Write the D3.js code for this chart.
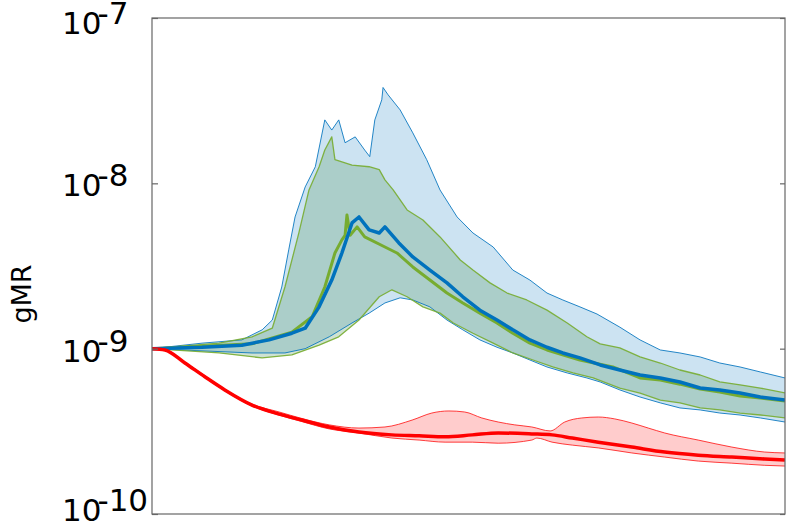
<!DOCTYPE html>
<html lang="en">
<head>
  <meta charset="UTF-8" />
  <script src="https://d3js.org/d3.v7.min.js"></script>
  <title>gMR</title>
  <style>
    body { margin: 0; background: #fff; }
  </style>
</head>
<body>
<script type="text/javascript">
// [time step, gMR]
var blueUpper = [[0,1.0e-9],[7.9,1.08e-9],[14.2,1.13e-9],[17.4,1.30e-9],[19.0,1.49e-9],[20.5,2.36e-9],[21.6,3.96e-9],
  [22.6,6.26e-9],[24.2,9.51e-9],[25.8,12.6e-9],[27.3,24.2e-9],[28.4,21.0e-9],[29.5,24.2e-9],[30.5,17.6e-9],
  [32.1,19.1e-9],[33.6,15.9e-9],[34.4,14.5e-9],[35.2,24.2e-9],[36.3,32.0e-9],[36.5,38.0e-9],[37.3,34.3e-9],
  [39.2,27.8e-9],[41.2,20.2e-9],[43.4,13.9e-9],[45.5,9.12e-9],[48.2,6.26e-9],[50.7,5.01e-9],[53.9,4.12e-9],
  [57.0,2.99e-9],[59.7,2.60e-9],[62.4,2.17e-9],[64.9,1.97e-9],[67.6,1.79e-9],[70.3,1.62e-9],[73.9,1.35e-9],
  [77.1,1.13e-9],[80.3,0.982e-9],[83.4,0.942e-9],[86.6,0.891e-9],[89.7,0.819e-9],[92.9,0.775e-9],
  [96.1,0.723e-9],[100,0.665e-9]];
var blueMean = [[0,1.0e-9],[7.9,1.02e-9],[14.2,1.05e-9],[18.5,1.13e-9],[22.1,1.24e-9],[24.2,1.33e-9],[26.4,1.79e-9],
  [28.4,2.60e-9],[30.0,3.79e-9],[31.6,5.76e-9],[32.7,6.26e-9],[34.3,5.23e-9],[35.9,5.01e-9],[36.8,5.45e-9],
  [39.0,4.36e-9],[41.2,3.59e-9],[43.9,2.99e-9],[46.6,2.50e-9],[49.1,2.06e-9],[51.8,1.71e-9],[54.5,1.49e-9],
  [57.0,1.30e-9],[59.7,1.13e-9],[62.4,1.02e-9],[64.9,0.942e-9],[67.6,0.879e-9],[70.8,0.797e-9],[73.9,0.743e-9],
  [77.1,0.693e-9],[80.3,0.665e-9],[83.4,0.629e-9],[86.6,0.578e-9],[89.7,0.563e-9],[92.9,0.539e-9],
  [96.1,0.510e-9],[100,0.489e-9]];
var blueLower = [[0,1.0e-9],[7.9,0.97e-9],[15.8,0.942e-9],[21.0,0.942e-9],[24.2,1.0e-9],[28.0,1.18e-9],[31.6,1.43e-9],
  [34.3,1.64e-9],[36.8,1.89e-9],[39.2,2.03e-9],[41.2,1.97e-9],[43.9,1.79e-9],[46.6,1.49e-9],[49.1,1.30e-9],
  [51.8,1.13e-9],[54.5,1.02e-9],[57.0,0.942e-9],[59.7,0.854e-9],[62.4,0.775e-9],[65.6,0.713e-9],[68.7,0.665e-9],
  [70.8,0.629e-9],[73.9,0.563e-9],[77.1,0.510e-9],[80.3,0.470e-9],[83.4,0.438e-9],[86.6,0.426e-9],
  [89.7,0.408e-9],[92.9,0.397e-9],[96.1,0.381e-9],[100,0.360e-9]];

var greenUpper = [[0,1.0e-9],[10.6,1.08e-9],[15.8,1.18e-9],[19.0,1.33e-9],[21.0,2.36e-9],[23.2,5.01e-9],[24.8,9.12e-9],
  [26.4,12.6e-9],[27.3,15.9e-9],[28.4,19.1e-9],[28.9,13.9e-9],[31.6,12.9e-9],[34.3,12.6e-9],[35.9,12.1e-9],
  [36.8,10.5e-9],[38.1,9.12e-9],[40.3,6.90e-9],[42.8,6.0e-9],[45.5,4.74e-9],[48.7,3.44e-9],[50.7,2.99e-9],
  [53.4,2.50e-9],[56.1,2.17e-9],[59.2,1.97e-9],[62.4,1.71e-9],[65.6,1.43e-9],[68.7,1.18e-9],[70.8,1.07e-9],
  [73.9,1.01e-9],[77.1,0.891e-9],[80.3,0.819e-9],[83.4,0.743e-9],[86.6,0.693e-9],[89.7,0.629e-9],
  [92.9,0.604e-9],[96.1,0.578e-9],[100,0.540e-9]];
var greenMean = [[0,1.0e-9],[15.8,1.07e-9],[22.1,1.26e-9],[25.3,1.56e-9],[27.3,2.36e-9],[28.9,3.79e-9],[30.0,4.55e-9],
  [30.5,4.85e-9],[30.8,6.44e-9],[31.3,4.85e-9],[32.4,5.45e-9],[33.6,4.74e-9],[36.8,4.12e-9],[38.7,3.79e-9],
  [41.2,3.12e-9],[43.9,2.60e-9],[46.6,2.17e-9],[49.1,1.89e-9],[51.8,1.64e-9],[54.5,1.43e-9],[57.0,1.24e-9],
  [59.7,1.08e-9],[62.4,0.982e-9],[67.6,0.854e-9],[72.8,0.775e-9],[77.1,0.665e-9],[80.3,0.647e-9],
  [83.4,0.610e-9],[86.6,0.570e-9],[89.7,0.547e-9],[92.9,0.517e-9],[96.1,0.503e-9],[100,0.482e-9]];
var greenLower = [[0,1.0e-9],[10.6,0.942e-9],[17.4,0.879e-9],[22.1,0.916e-9],[26.4,1.05e-9],[29.5,1.18e-9],
  [32.7,1.49e-9],[35.9,2.06e-9],[37.9,2.27e-9],[40.3,2.06e-9],[42.8,1.79e-9],[45.5,1.64e-9],[47.6,1.43e-9],
  [50.7,1.24e-9],[53.9,1.08e-9],[57.0,0.942e-9],[60.2,0.854e-9],[63.3,0.775e-9],[66.5,0.713e-9],
  [69.7,0.665e-9],[73.9,0.578e-9],[77.1,0.539e-9],[80.3,0.489e-9],[83.4,0.470e-9],[86.6,0.438e-9],
  [89.7,0.426e-9],[92.9,0.408e-9],[96.1,0.397e-9],[100,0.381e-9]];

var redUpper = [[0,1.0e-9],[2.05,0.985e-9],[5.2,0.83e-9],[8.4,0.685e-9],[11.5,0.57e-9],[15.8,0.462e-9],[20.1,0.414e-9],
  [23.7,0.378e-9],[28.0,0.346e-9],[32.7,0.331e-9],[36.8,0.336e-9],[41.1,0.370e-9],[44.2,0.408e-9],
  [46.9,0.420e-9],[49.4,0.414e-9],[52.1,0.381e-9],[54.7,0.360e-9],[57.3,0.346e-9],[60.0,0.336e-9],
  [62.9,0.318e-9],[65.2,0.360e-9],[67.9,0.381e-9],[70.5,0.386e-9],[73.1,0.376e-9],[75.8,0.355e-9],
  [78.4,0.331e-9],[81.0,0.309e-9],[86.3,0.280e-9],[91.6,0.254e-9],[96.8,0.237e-9],[100,0.234e-9]];
var redMean = [[0,1.0e-9],[2.05,0.982e-9],[5.2,0.819e-9],[8.4,0.674e-9],[11.5,0.563e-9],[15.8,0.456e-9],
  [20.1,0.402e-9],[23.7,0.370e-9],[28.0,0.336e-9],[32.7,0.313e-9],[37.9,0.301e-9],[42.2,0.297e-9],
  [46.3,0.293e-9],[50.6,0.301e-9],[54.7,0.309e-9],[60.0,0.305e-9],[63.2,0.301e-9],[66.4,0.288e-9],
  [70.5,0.272e-9],[75.8,0.254e-9],[81.0,0.237e-9],[86.3,0.227e-9],[91.6,0.221e-9],[96.8,0.215e-9],
  [100,0.212e-9]];
var redLower = [[0,1.0e-9],[2.05,0.978e-9],[5.2,0.81e-9],[8.4,0.665e-9],[11.5,0.555e-9],[15.8,0.450e-9],
  [20.1,0.396e-9],[23.7,0.362e-9],[28.0,0.327e-9],[32.7,0.309e-9],[37.9,0.288e-9],[42.2,0.280e-9],
  [46.3,0.272e-9],[50.6,0.272e-9],[54.7,0.268e-9],[60.0,0.280e-9],[60.8,0.288e-9],[63.2,0.272e-9],
  [66.4,0.261e-9],[70.5,0.251e-9],[75.8,0.234e-9],[81.0,0.221e-9],[86.3,0.209e-9],[91.6,0.203e-9],
  [96.8,0.197e-9],[100,0.195e-9]];

var yTicks = [1e-10, 1e-9, 1e-8, 1e-7];
var yTickExp = ["-10", "-9", "-8", "-7"];

var W = 787, H = 526;
var margin = {top: 18, right: 2, bottom: 12, left: 152};

var x = d3.scaleLinear().domain([0, 100]).range([margin.left, W - margin.right]);
var y = d3.scaleLog().domain([1e-10, 1e-7]).range([H - margin.bottom, margin.top]);

var svg = d3.select("body").append("svg").attr("width", W).attr("height", H)
  .style("font-family", "'DejaVu Sans', sans-serif");

svg.append("clipPath").attr("id", "plot").append("rect")
  .attr("x", x(0)).attr("y", y(1e-7)).attr("width", x(100) - x(0)).attr("height", y(1e-10) - y(1e-7));

var g = svg.append("g").attr("clip-path", "url(#plot)");

var line = d3.line().x(function(d){ return x(d[0]); }).y(function(d){ return y(d[1]); });
var smooth = d3.line().curve(d3.curveMonotoneX).x(function(d){ return x(d[0]); }).y(function(d){ return y(d[1]); });

function band(up, lo, fill, op, gen) {
  var pts = up.concat(lo.slice().reverse());
  g.append("path").attr("d", (gen || line)(pts) + "Z").attr("fill", fill).attr("fill-opacity", op).attr("stroke", "none");
}
function curve(data, col, w, op, gen) {
  g.append("path").datum(data).attr("d", gen || line).attr("fill", "none")
    .attr("stroke", col).attr("stroke-width", w).attr("stroke-opacity", op || 1)
    .attr("stroke-linejoin", "round");
}

band(blueUpper, blueLower, "#0072bd", 0.2);
band(greenUpper, greenLower, "#619f6b", 0.3);
// red band: upper forward + lower backward, both smooth
g.append("path")
  .attr("d", smooth(redUpper) + "L" + smooth(redLower.slice().reverse()).slice(1) + "Z")
  .attr("fill", "#ff0000").attr("fill-opacity", 0.2);

curve(blueUpper, "#0072bd", 1, 0.85);
curve(blueLower, "#0072bd", 1, 0.85);
curve(greenUpper, "#77ac30", 1.3, 0.9);
curve(greenLower, "#77ac30", 1.3, 0.9);
curve(greenMean, "#77ac30", 3);
curve(blueMean, "#0072bd", 3.5);
curve(redUpper, "#ff0000", 1, 0.75, smooth);
curve(redLower, "#ff0000", 1, 0.75, smooth);
curve(redMean, "#ff0000", 3.5, 1, smooth);

// frame
svg.append("rect").attr("x", x(0)).attr("y", y(1e-7))
  .attr("width", x(100) - x(0)).attr("height", y(1e-10) - y(1e-7))
  .attr("fill", "none").attr("stroke", "#666").attr("stroke-width", 1.2);

var left = svg.append("g").attr("transform", "translate(" + x(0) + ",0)")
  .call(d3.axisLeft(y).tickValues(yTicks).tickSize(-6).tickFormat(""));
var right = svg.append("g").attr("transform", "translate(" + x(100) + ",0)")
  .call(d3.axisRight(y).tickValues(yTicks).tickSize(-5).tickFormat(""));
[left, right].forEach(function(a){
  a.select(".domain").remove();
  a.selectAll("line").attr("stroke", "#666").attr("stroke-width", 1.2);
});

// tick labels 10^n
yTicks.forEach(function(v, i){
  var base = Math.min(Math.max(y(v) + 13, 34), 521);
  var t = svg.append("text").attr("x", 62).attr("y", base)
    .attr("font-size", 31).attr("fill", "#000").text("10");
  t.append("tspan").attr("dx", -4).attr("dy", -10).text(yTickExp[i]);
});

svg.append("text").attr("transform", "translate(31,294) rotate(-90)")
  .attr("text-anchor", "middle").attr("font-size", 27).attr("fill", "#000").text("gMR");
</script>
</body>
</html>
